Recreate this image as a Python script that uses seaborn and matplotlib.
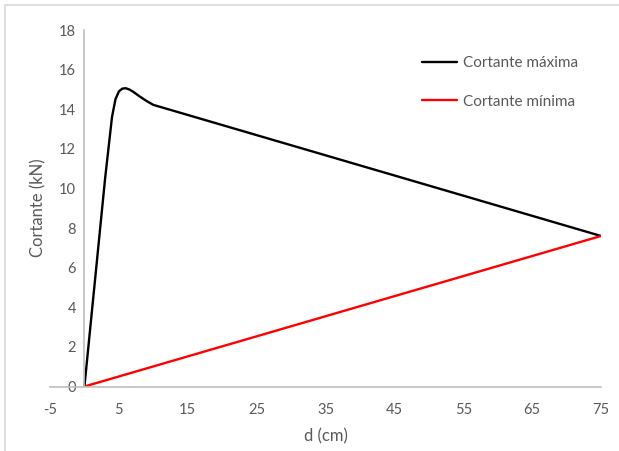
import matplotlib
matplotlib.use("Agg")
import matplotlib.pyplot as plt
import seaborn as sns
import pandas as pd
from matplotlib.lines import Line2D

# Data
d_max = [0, 1, 2, 3, 4, 4.5, 5, 5.5, 6, 6.5, 7, 8, 9, 10, 75]
v_max = [0, 3.5, 7.0, 10.5, 13.6, 14.5, 14.9, 15.04, 15.06, 15.0, 14.9, 14.65, 14.42, 14.22, 7.6]
d_min = [0, 75]
v_min = [0, 7.6]
x_ticks = [-5, 5, 15, 25, 35, 45, 55, 65, 75]
y_ticks = [0, 2, 4, 6, 8, 10, 12, 14, 16, 18]
series_names = ["Cortante máxima", "Cortante mínima"]

df = pd.concat([
    pd.DataFrame({"d": d_max, "v": v_max, "serie": series_names[0]}),
    pd.DataFrame({"d": d_min, "v": v_min, "serie": series_names[1]}),
])

sns.set_theme(style="white")
plt.rcParams["font.family"] = ["Lato", "DejaVu Sans"]
plt.rcParams["axes.unicode_minus"] = False
txt = "#595959"
axc = "#bfbfbf"

fig = plt.figure(figsize=(6.19, 4.51), dpi=100)
ax = fig.add_axes([50 / 619, (451 - 386.5) / 451, 551 / 619, 356.5 / 451])

sns.lineplot(data=df, x="d", y="v", hue="serie", sort=False,
             palette={series_names[0]: "#000000", series_names[1]: "#ff0000"},
             linewidth=1.7, ax=ax, legend=False, estimator=None)

ax.set_xlim(-5, 75)
ax.set_ylim(0, 18)
ax.set_xticks(x_ticks)
ax.set_yticks(y_ticks)
ax.tick_params(length=0, labelsize=10.5, labelcolor=txt, pad=6)
ax.tick_params(axis="x", pad=12)

for s in ["top", "right"]:
    ax.spines[s].set_visible(False)
ax.spines["left"].set_position(("data", 0))
ax.spines["left"].set_color(axc)
ax.spines["bottom"].set_color(axc)
ax.spines["left"].set_linewidth(1.2)
ax.spines["bottom"].set_linewidth(1.2)
ax.set_zorder(1)
ax.patch.set_alpha(0)

ax.set_xlabel("d (cm)", fontsize=12, color=txt, labelpad=8)
ax.set_ylabel("")
fig.text(38 / 619, 1 - 208 / 451, "Cortante (kN)", rotation=90, fontsize=12,
         color=txt, ha="center", va="center")

# Legend
handles = [Line2D([], [], color="#000000", lw=1.7), Line2D([], [], color="#ff0000", lw=1.7)]
leg = ax.legend(handles, series_names, loc="upper left",
                bbox_to_anchor=((416 - 50) / 551, (386.5 - 50) / 356.5),
                frameon=False, fontsize=11, handlelength=2.3, handletextpad=0.4,
                labelspacing=1.6, borderaxespad=0)
for t in leg.get_texts():
    t.set_color(txt)

# Chart-area border (top and left visible)
fig.add_artist(Line2D([5 / 619, 5 / 619], [0, 1 - 5 / 451], color="#d9d9d9", lw=1.2, transform=fig.transFigure))
fig.add_artist(Line2D([5 / 619, 1], [1 - 5 / 451, 1 - 5 / 451], color="#d9d9d9", lw=1.2, transform=fig.transFigure))

fig.savefig("out.png", dpi=100)
